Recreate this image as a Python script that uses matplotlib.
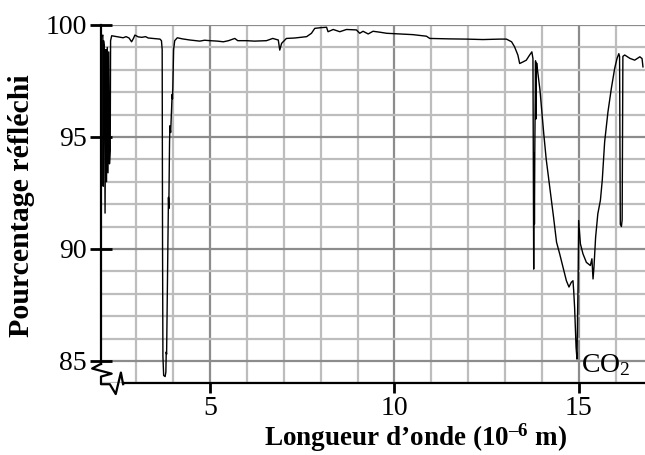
"""Spectre de réflexion infrarouge (pourcentage réfléchi vs longueur d'onde)."""

import matplotlib

matplotlib.use("Agg")

import matplotlib.pyplot as plt  # noqa: E402
from matplotlib.ticker import FixedLocator, MultipleLocator  # noqa: E402

plt.rcParams["font.family"] = "Liberation Serif"
plt.rcParams["mathtext.fontset"] = "custom"
plt.rcParams["mathtext.rm"] = "Liberation Serif"
plt.rcParams["mathtext.it"] = "Liberation Serif:italic"
plt.rcParams["mathtext.bf"] = "Liberation Serif:bold"

# longueur d'onde (10^-6 m) et pourcentage réfléchi
longueur = [
    2.07, 2.09, 2.10, 2.11, 2.13, 2.15, 2.17, 2.19, 2.21, 2.23, 2.25, 2.27, 2.29, 2.30,
    2.33, 2.40, 2.50, 2.64, 2.72, 2.80, 2.87, 2.92, 2.96, 3.05, 3.15, 3.25, 3.32, 3.45,
    3.55, 3.64, 3.68, 3.70, 3.71, 3.72, 3.74, 3.78, 3.80, 3.81, 3.82, 3.84, 3.86, 3.87,
    3.88, 3.90, 3.91, 3.93, 3.95, 3.97, 3.98, 3.99, 4.01, 4.04, 4.11, 4.25, 4.45, 4.60,
    4.72, 4.85, 5.00, 5.20, 5.36, 5.50, 5.67, 5.75, 5.99, 6.20, 6.53, 6.70, 6.85, 6.89,
    6.94, 7.07, 7.30, 7.62, 7.75, 7.84, 8.00, 8.16, 8.20, 8.34, 8.52, 8.70, 8.97, 9.06,
    9.15, 9.29, 9.42, 9.60, 9.79, 10.15, 10.50, 10.87, 10.96, 11.50, 11.96, 12.40, 12.86,
    13.04, 13.18, 13.26, 13.35, 13.40, 13.50, 13.58, 13.67, 13.73, 13.76, 13.78, 13.79,
    13.80, 13.81, 13.83, 13.84, 13.85, 13.86, 13.95, 14.05, 14.12, 14.22, 14.32, 14.40,
    14.485, 14.575, 14.667, 14.737, 14.80, 14.846, 14.865, 14.89, 14.91, 14.93, 14.955,
    14.97, 14.985, 15.00, 15.047, 15.117, 15.21, 15.317, 15.36, 15.39, 15.415, 15.46,
    15.52, 15.59, 15.64, 15.705, 15.795, 15.887, 15.977, 16.04, 16.09, 16.11, 16.13,
    16.16, 16.18, 16.20, 16.25, 16.39, 16.52, 16.66, 16.72, 16.745,
]
reflechi = [
    99.50, 99.55, 92.8, 99.3, 99.0, 91.6, 98.9, 93.0, 99.0, 93.4, 98.8, 93.8, 94.4, 99.3,
    99.52, 99.50, 99.47, 99.43, 99.48, 99.42, 99.25, 99.40, 99.55, 99.47, 99.45, 99.48,
    99.42, 99.40, 99.38, 99.37, 99.30, 98.90, 90.0, 85.2, 84.35, 84.30, 84.50, 85.40,
    85.30, 88.0, 91.0, 92.3, 91.8, 94.8, 95.5, 95.2, 96.0, 96.9, 96.7, 97.3, 98.9, 99.30,
    99.43, 99.38, 99.33, 99.30, 99.28, 99.32, 99.30, 99.28, 99.25, 99.30, 99.40, 99.30,
    99.30, 99.28, 99.30, 99.40, 99.33, 98.88, 99.18, 99.40, 99.42, 99.48, 99.63, 99.85,
    99.88, 99.90, 99.70, 99.80, 99.70, 99.80, 99.78, 99.63, 99.72, 99.60, 99.72, 99.68,
    99.63, 99.60, 99.57, 99.50, 99.40, 99.38, 99.37, 99.35, 99.37, 99.37, 99.25, 99.03,
    98.66, 98.28, 98.36, 98.43, 98.66, 98.80, 98.5, 89.1, 94.3, 91.1, 94.4, 98.4, 95.8,
    98.0, 98.3, 97.1, 95.2, 94.0, 92.7, 91.4, 90.3, 89.78, 89.18, 88.58, 88.30, 88.51,
    88.58, 88.14, 87.39, 86.5, 85.6, 85.08, 87.0, 88.5, 91.27, 90.23, 89.78, 89.40,
    89.26, 89.56, 88.66, 89.18, 90.52, 91.57, 92.17, 93.06, 94.78, 96.12, 97.17, 98.06,
    98.50, 98.72, 98.6, 91.1, 91.0, 91.3, 98.6, 98.66, 98.51, 98.43, 98.58, 98.50, 98.13,
]

ticks_x = [5, 10, 15]
etiquette_x = "Longueur d’onde (10$^{\\mathbf{–6}}$ m)"
etiquette_y = "Pourcentage réfléchi"
annotation = "CO$_2$"


def main() -> None:
    fig = plt.figure(figsize=(6.45, 4.55), dpi=100)
    ax = fig.add_axes([101 / 645, 71.7 / 455, 544 / 645, 358.3 / 455])

    ax.plot(longueur, reflechi, color="black", linewidth=1.0, zorder=3)
    ax.set_xlim(2.04, 16.8)
    ax.set_ylim(84, 100)

    ax.xaxis.set_major_locator(FixedLocator(ticks_x))
    ax.xaxis.set_minor_locator(MultipleLocator(1))
    ax.yaxis.set_major_locator(MultipleLocator(5))
    ax.yaxis.set_minor_locator(MultipleLocator(1))
    ax.grid(which="minor", color="#bdbdbd", linewidth=1.6)
    ax.grid(which="major", color="#8c8c8c", linewidth=1.6)
    ax.set_axisbelow(True)

    ax.tick_params(which="minor", length=0)
    ax.tick_params(axis="y", which="major", direction="inout", length=16, width=2,
                   labelsize=20, pad=2)
    ax.tick_params(axis="x", which="major", direction="out", length=7, width=2,
                   labelsize=20, pad=2)

    for cote in ("top", "right"):
        ax.spines[cote].set_visible(False)
    ax.spines["left"].set_linewidth(1.6)
    ax.spines["bottom"].set_linewidth(1.6)
    ax.spines["left"].set_bounds(84.87, 100)
    ax.spines["bottom"].set_bounds(2.64, 16.8)

    # symbole de coupure des axes
    ax.plot([2.04, 1.80, 2.33, 2.04, 2.04, 2.28, 2.44, 2.58, 2.64],
            [84.87, 84.66, 84.43, 84.30, 83.96, 83.96, 83.52, 84.48, 83.96],
            color="black", linewidth=1.6, clip_on=False, zorder=4)

    ax.text(15.07, 84.48, annotation, fontsize=20, ha="left", va="baseline", zorder=5)

    fig.text(0.645, 0.038, etiquette_x, fontsize=19.5, fontweight="bold",
             ha="center", va="center")
    fig.text(0.034, 0.549, etiquette_y, fontsize=21.5, fontweight="bold",
             ha="center", va="center", rotation=90)

    fig.savefig("out.png", dpi=100)
    plt.close(fig)


if __name__ == "__main__":
    main()
